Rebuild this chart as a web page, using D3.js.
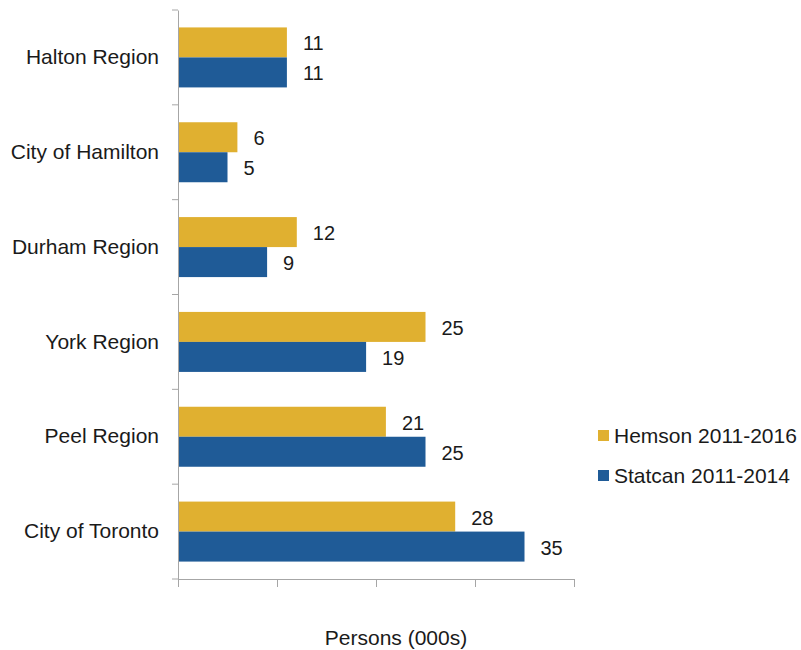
<!DOCTYPE html>
<html>
<head>
<meta charset="utf-8">
<script src="https://cdn.jsdelivr.net/npm/d3@7"></script>
<style>
  body { margin: 0; background: #fff; }
  text { font-family: Arial, "Liberation Sans", sans-serif; fill: #1a1a1a; }
</style>
</head>
<body>
<div id="chart"></div>
<script>
// Data
const regions = ["Halton Region", "City of Hamilton", "Durham Region", "York Region", "Peel Region", "City of Toronto"];
const hemson = [11, 6, 12, 25, 21, 28];
const statcan = [11, 5, 9, 19, 25, 35];
const seriesNames = ["Hemson 2011-2016", "Statcan 2011-2014"];
const seriesColors = ["#e0b030", "#1f5b97"];
const xTicks = [0, 10, 20, 30, 40];

const width = 801;
const height = 650;
const margin = { top: 10, right: 227, bottom: 71, left: 178 };

const svg = d3.select("#chart").append("svg")
    .attr("width", width)
    .attr("height", height);

const g = svg.append("g")
    .attr("transform", `translate(${margin.left},${margin.top})`);

const innerH = height - margin.top - margin.bottom;

// Scales
const x = d3.scaleLinear()
    .domain([0, 40])
    .range([0, 396]);

const y = d3.scaleBand()
    .domain(regions)
    .range([0, innerH]);

const barH = 30;

const rows = regions.map((r, i) => ({ region: r, values: [hemson[i], statcan[i]] }));

// Bars
const groups = g.selectAll(".grp")
    .data(rows)
    .enter()
    .append("g")
    .attr("class", "grp")
    .attr("transform", d => `translate(0,${y(d.region) + y.bandwidth() / 2 - barH})`);

groups.selectAll("rect")
    .data(d => d.values)
    .enter()
    .append("rect")
    .attr("x", 0)
    .attr("y", (d, i) => i * barH)
    .attr("width", d => x(d))
    .attr("height", barH)
    .attr("fill", (d, i) => seriesColors[i]);

// Value labels
groups.selectAll(".val")
    .data(d => d.values)
    .enter()
    .append("text")
    .attr("class", "val")
    .attr("x", d => x(d) + 16)
    .attr("y", (d, i) => i * barH + barH / 2 + 1)
    .attr("dy", "0.35em")
    .style("font-size", "20px")
    .text(d => d);

// Y axis
const yAxis = g.append("g")
    .call(d3.axisLeft(y).tickSize(0).tickPadding(19).tickSizeOuter(0));
yAxis.select(".domain").attr("stroke", "#a6a6a6");
yAxis.selectAll("text").style("font-size", "21px").attr("fill", "#1a1a1a");

// category separators on the y axis
g.selectAll(".ysep")
    .data(d3.range(regions.length + 1))
    .enter()
    .append("line")
    .attr("x1", -6)
    .attr("x2", 0)
    .attr("y1", i => i * y.step())
    .attr("y2", i => i * y.step())
    .attr("stroke", "#a6a6a6");

// X axis
const xAxis = g.append("g")
    .attr("transform", `translate(0,${innerH})`)
    .call(d3.axisBottom(x).tickValues(xTicks).tickSize(8).tickFormat("").tickSizeOuter(0));
xAxis.select(".domain").attr("stroke", "#a6a6a6");
xAxis.selectAll("line").attr("stroke", "#a6a6a6");

// X axis title
svg.append("text")
    .attr("x", 396)
    .attr("y", 645)
    .attr("text-anchor", "middle")
    .style("font-size", "21px")
    .text("Persons (000s)");

// Legend
const legend = svg.append("g")
    .attr("transform", "translate(598,436)");

seriesNames.forEach((name, i) => {
    legend.append("rect")
        .attr("x", 0)
        .attr("y", i * 40 - 6)
        .attr("width", 11)
        .attr("height", 11)
        .attr("fill", seriesColors[i]);
    legend.append("text")
        .attr("x", 16)
        .attr("y", i * 40)
        .attr("dy", "0.35em")
        .style("font-size", "21px")
        .text(name);
});
</script>
</body>
</html>
